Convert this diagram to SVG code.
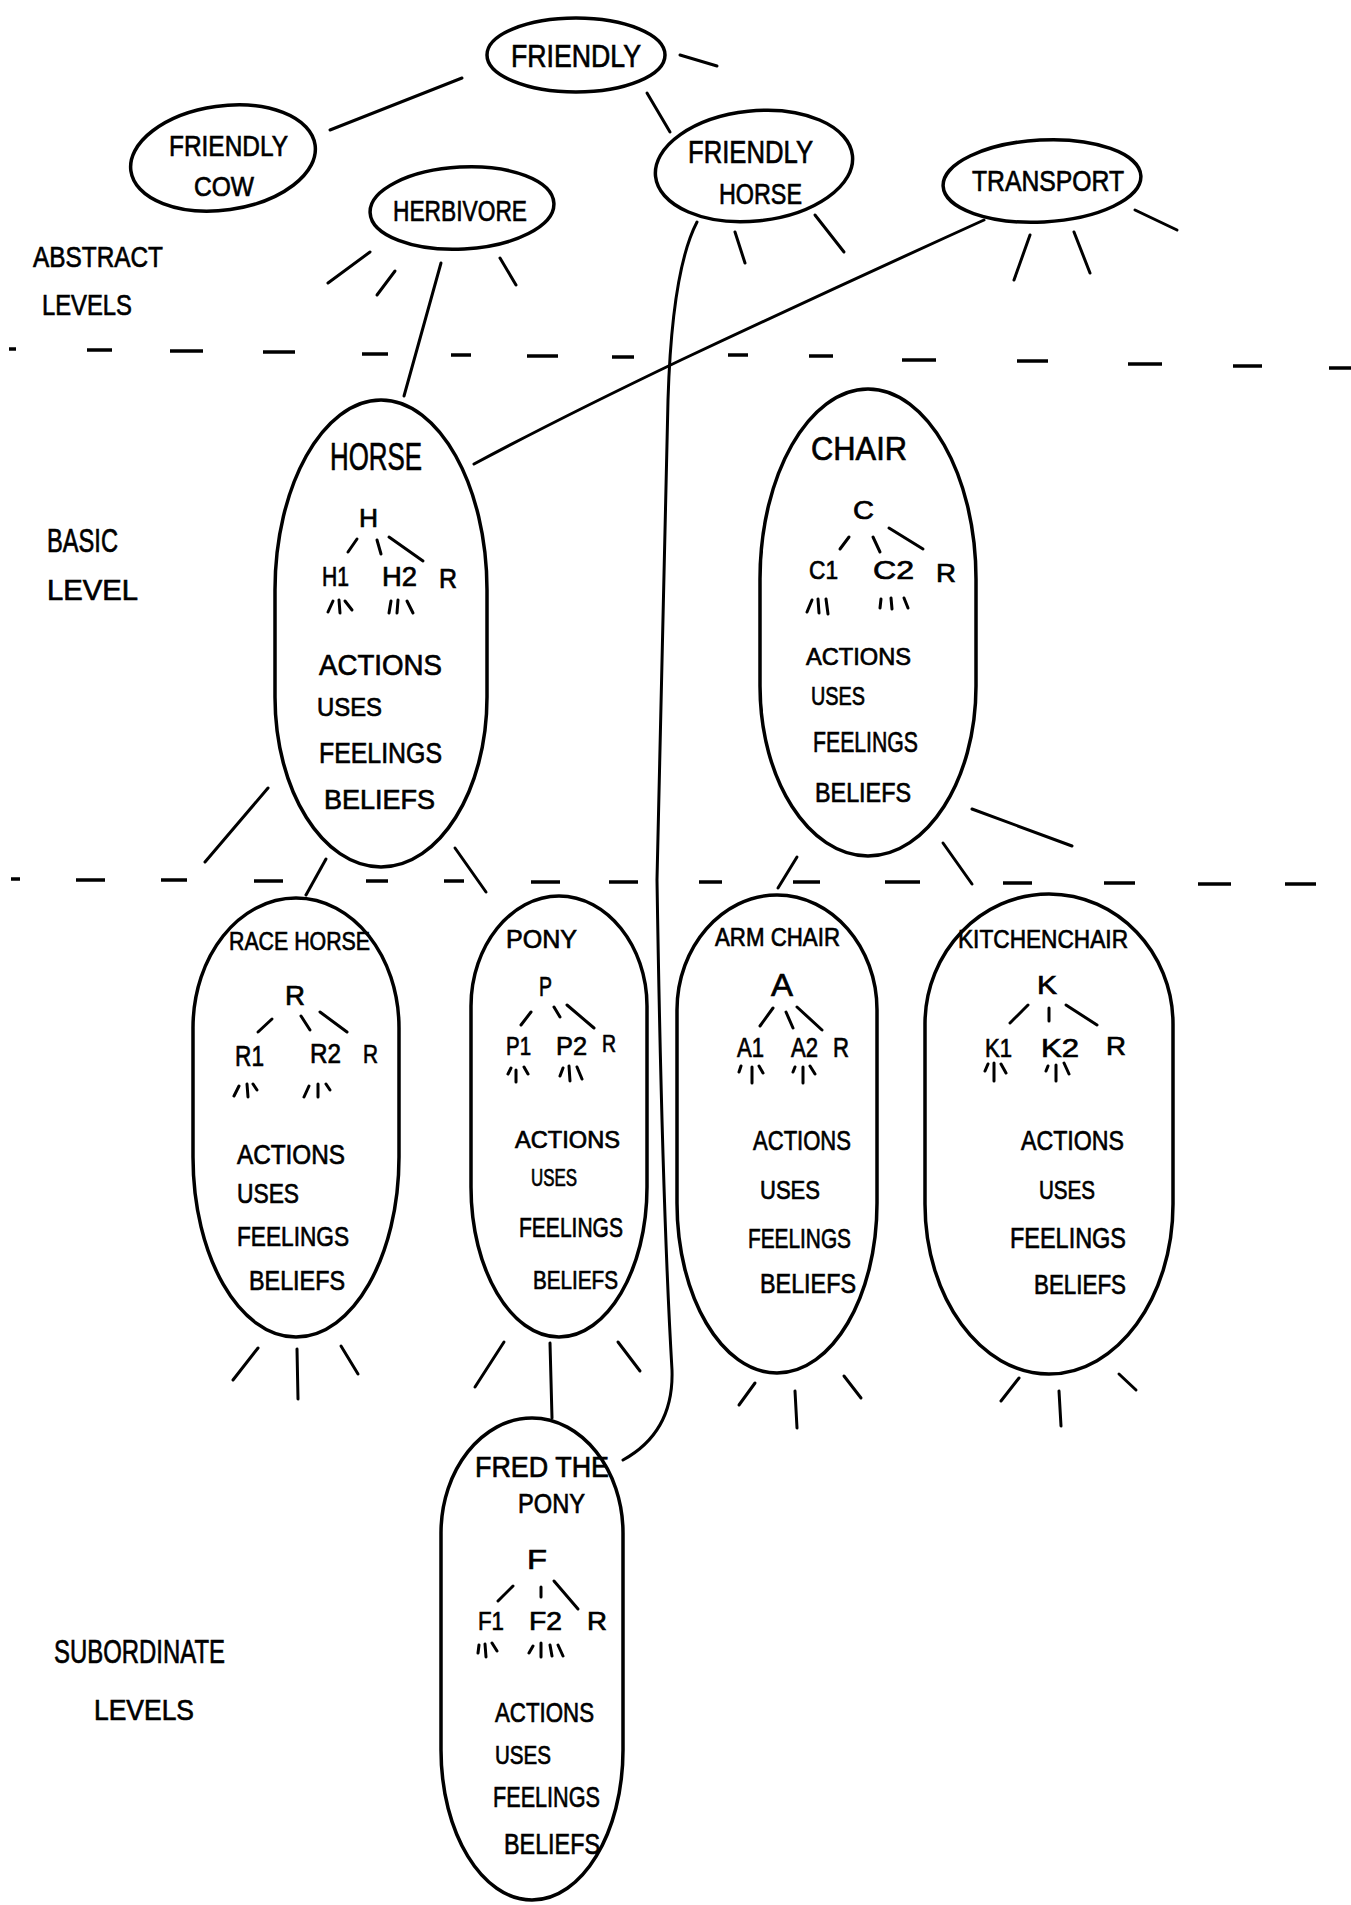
<svg xmlns="http://www.w3.org/2000/svg" width="1351" height="1905" viewBox="0 0 1351 1905">
<style>
.t{font-family:"Liberation Sans","DejaVu Sans",sans-serif;fill:#000;stroke:#000;stroke-width:0.7;}
.o{fill:none;stroke:#000;stroke-width:3.5;stroke-linecap:round;stroke-linejoin:round;}
.l{fill:none;stroke:#000;stroke-width:3;stroke-linecap:round;}
.d{fill:none;stroke:#000;stroke-width:3.5;stroke-linecap:butt;}
</style>
<rect width="1351" height="1905" fill="#fff"/>

<g id="level-labels">
<text class="t" x="33" y="267" font-size="30" textLength="130" lengthAdjust="spacingAndGlyphs">ABSTRACT</text>
<text class="t" x="42" y="315" font-size="30" textLength="90" lengthAdjust="spacingAndGlyphs">LEVELS</text>
<text class="t" x="47" y="552" font-size="34" textLength="71" lengthAdjust="spacingAndGlyphs">BASIC</text>
<text class="t" x="47" y="600" font-size="30" textLength="91" lengthAdjust="spacingAndGlyphs">LEVEL</text>
<text class="t" x="54" y="1663" font-size="34" textLength="171" lengthAdjust="spacingAndGlyphs">SUBORDINATE</text>
<text class="t" x="94" y="1720" font-size="30" textLength="100" lengthAdjust="spacingAndGlyphs">LEVELS</text>
</g>

<g id="dividers">
<g id="divider-1">
<line class="d" x1="9" y1="349" x2="16" y2="349"/>
<line class="d" x1="87" y1="350" x2="112" y2="350"/>
<line class="d" x1="170" y1="351" x2="203" y2="351"/>
<line class="d" x1="263" y1="352" x2="295" y2="352"/>
<line class="d" x1="362" y1="354" x2="388" y2="354"/>
<line class="d" x1="451" y1="355" x2="471" y2="355"/>
<line class="d" x1="527" y1="356" x2="558" y2="356"/>
<line class="d" x1="612" y1="357" x2="634" y2="357"/>
<line class="d" x1="728" y1="355" x2="748" y2="355"/>
<line class="d" x1="809" y1="356" x2="833" y2="356"/>
<line class="d" x1="902" y1="360" x2="936" y2="360"/>
<line class="d" x1="1017" y1="361" x2="1048" y2="361"/>
<line class="d" x1="1128" y1="364" x2="1162" y2="364"/>
<line class="d" x1="1233" y1="366" x2="1262" y2="366"/>
<line class="d" x1="1329" y1="368" x2="1351" y2="368"/>
</g>
<g id="divider-2">
<line class="d" x1="11" y1="879" x2="20" y2="879"/>
<line class="d" x1="76" y1="880" x2="105" y2="880"/>
<line class="d" x1="161" y1="880" x2="187" y2="880"/>
<line class="d" x1="254" y1="881" x2="283" y2="881"/>
<line class="d" x1="366" y1="881" x2="388" y2="881"/>
<line class="d" x1="444" y1="881" x2="464" y2="881"/>
<line class="d" x1="531" y1="882" x2="560" y2="882"/>
<line class="d" x1="609" y1="882" x2="638" y2="882"/>
<line class="d" x1="699" y1="882" x2="722" y2="882"/>
<line class="d" x1="793" y1="882" x2="820" y2="882"/>
<line class="d" x1="885" y1="882" x2="920" y2="882"/>
<line class="d" x1="1003" y1="883" x2="1032" y2="883"/>
<line class="d" x1="1104" y1="883" x2="1135" y2="883"/>
<line class="d" x1="1198" y1="884" x2="1231" y2="884"/>
<line class="d" x1="1285" y1="884" x2="1316" y2="884"/>
</g>
</g>

<g id="connectors">
<line class="l" x1="462" y1="78" x2="330" y2="130"/>
<line class="l" x1="680" y1="55" x2="717" y2="66"/>
<line class="l" x1="647" y1="93" x2="670" y2="132"/>
<line class="l" x1="441" y1="263" x2="404" y2="396"/>
<path class="l" d="M984,220 Q830,290 681,360 Q560,418 474,464"/>
<path class="l" d="M697,222 Q672,270 668,400 L657,880 Q662,1200 672,1370 Q674,1432 623,1460"/>
<line class="l" x1="550" y1="1343" x2="552" y2="1418"/>
<line class="l" x1="370" y1="252" x2="328" y2="283"/>
<line class="l" x1="395" y1="271" x2="377" y2="295"/>
<line class="l" x1="500" y1="258" x2="516" y2="285"/>
<line class="l" x1="735" y1="232" x2="745" y2="263"/>
<line class="l" x1="815" y1="215" x2="844" y2="252"/>
<line class="l" x1="1030" y1="235" x2="1014" y2="280"/>
<line class="l" x1="1074" y1="232" x2="1090" y2="273"/>
<line class="l" x1="1135" y1="210" x2="1177" y2="230"/>
<line class="l" x1="268" y1="788" x2="205" y2="862"/>
<line class="l" x1="326" y1="859" x2="306" y2="895"/>
<line class="l" x1="455" y1="848" x2="486" y2="892"/>
<line class="l" x1="797" y1="857" x2="778" y2="888"/>
<line class="l" x1="943" y1="843" x2="972" y2="884"/>
<line class="l" x1="972" y1="809" x2="1072" y2="846"/>
<line class="l" x1="258" y1="1348" x2="233" y2="1380"/>
<line class="l" x1="297" y1="1349" x2="298" y2="1399"/>
<line class="l" x1="341" y1="1346" x2="358" y2="1374"/>
<line class="l" x1="504" y1="1342" x2="475" y2="1387"/>
<line class="l" x1="618" y1="1342" x2="640" y2="1371"/>
<line class="l" x1="755" y1="1383" x2="739" y2="1405"/>
<line class="l" x1="795" y1="1391" x2="797" y2="1428"/>
<line class="l" x1="844" y1="1376" x2="861" y2="1398"/>
<line class="l" x1="1019" y1="1378" x2="1001" y2="1401"/>
<line class="l" x1="1059" y1="1391" x2="1061" y2="1426"/>
<line class="l" x1="1119" y1="1374" x2="1136" y2="1390"/>
</g>

<g id="friendly">
<ellipse class="o" cx="576" cy="55" rx="89" ry="37"/>
<text class="t" x="511" y="67" font-size="32" textLength="130" lengthAdjust="spacingAndGlyphs">FRIENDLY</text>
</g>
<g id="friendly-cow">
<ellipse class="o" cx="223" cy="158" rx="93" ry="52" transform="rotate(-8 223 158)"/>
<text class="t" x="169" y="156" font-size="30" textLength="119" lengthAdjust="spacingAndGlyphs">FRIENDLY</text>
<text class="t" x="194" y="196" font-size="28" textLength="60" lengthAdjust="spacingAndGlyphs">COW</text>
</g>
<g id="herbivore">
<ellipse class="o" cx="462" cy="208" rx="92" ry="41" transform="rotate(-3 462 208)"/>
<text class="t" x="393" y="221" font-size="30" textLength="134" lengthAdjust="spacingAndGlyphs">HERBIVORE</text>
</g>
<g id="friendly-horse">
<ellipse class="o" cx="754" cy="166" rx="99" ry="55" transform="rotate(-6 754 166)"/>
<text class="t" x="688" y="163" font-size="32" textLength="125" lengthAdjust="spacingAndGlyphs">FRIENDLY</text>
<text class="t" x="719" y="204" font-size="30" textLength="83" lengthAdjust="spacingAndGlyphs">HORSE</text>
</g>
<g id="transport">
<ellipse class="o" cx="1042" cy="181" rx="99" ry="41" transform="rotate(-3 1042 181)"/>
<text class="t" x="972" y="191" font-size="30" textLength="152" lengthAdjust="spacingAndGlyphs">TRANSPORT</text>
</g>

<g id="horse">
<path class="o" d="M381,400 C439,400 487,486 487,590 L487,697 C487,791 439,867 381,867 C323,867 275,791 275,697 L275,590 C275,486 323,400 381,400Z"/>
<text class="t" x="330" y="470" font-size="38" textLength="92" lengthAdjust="spacingAndGlyphs">HORSE</text>
<text class="t" x="359" y="527" font-size="26" textLength="19" lengthAdjust="spacingAndGlyphs">H</text>
<line class="l" x1="357" y1="539" x2="348" y2="552"/><line class="l" x1="377" y1="540" x2="381" y2="554"/><line class="l" x1="389" y1="537" x2="423" y2="561"/>
<text class="t" x="322" y="586" font-size="27" textLength="27" lengthAdjust="spacingAndGlyphs">H1</text>
<text class="t" x="382" y="586" font-size="27" textLength="35" lengthAdjust="spacingAndGlyphs">H2</text>
<text class="t" x="439" y="588" font-size="27" textLength="18" lengthAdjust="spacingAndGlyphs">R</text>
<path class="l" d="M333,601 L328,612 M339,600 L340,613 M345,601 L352,610 M391,601 L389,613 M398,600 L397,613 M407,601 L413,613"/>
<text class="t" x="319" y="675" font-size="30" textLength="123" lengthAdjust="spacingAndGlyphs">ACTIONS</text>
<text class="t" x="317" y="716" font-size="26" textLength="65" lengthAdjust="spacingAndGlyphs">USES</text>
<text class="t" x="319" y="763" font-size="30" textLength="123" lengthAdjust="spacingAndGlyphs">FEELINGS</text>
<text class="t" x="324" y="809" font-size="28" textLength="111" lengthAdjust="spacingAndGlyphs">BELIEFS</text>
</g>

<g id="chair">
<path class="o" d="M868,389 C927,389 976,475 976,579 L976,686 C976,780 927,856 868,856 C809,856 760,780 760,686 L760,579 C760,475 809,389 868,389Z"/>
<text class="t" x="811" y="460" font-size="34" textLength="96" lengthAdjust="spacingAndGlyphs">CHAIR</text>
<text class="t" x="853" y="519" font-size="26" textLength="21" lengthAdjust="spacingAndGlyphs">C</text>
<line class="l" x1="849" y1="537" x2="840" y2="549"/><line class="l" x1="873" y1="537" x2="880" y2="552"/><line class="l" x1="889" y1="528" x2="923" y2="549"/>
<text class="t" x="809" y="579" font-size="26" textLength="29" lengthAdjust="spacingAndGlyphs">C1</text>
<text class="t" x="873" y="579" font-size="26" textLength="41" lengthAdjust="spacingAndGlyphs">C2</text>
<text class="t" x="936" y="582" font-size="26" textLength="20" lengthAdjust="spacingAndGlyphs">R</text>
<path class="l" d="M812,600 L807,612 M818,599 L819,613 M826,599 L828,614 M881,599 L880,608 M891,598 L892,609 M904,598 L908,608"/>
<text class="t" x="806" y="665" font-size="24" textLength="105" lengthAdjust="spacingAndGlyphs">ACTIONS</text>
<text class="t" x="811" y="705" font-size="26" textLength="54" lengthAdjust="spacingAndGlyphs">USES</text>
<text class="t" x="813" y="752" font-size="30" textLength="105" lengthAdjust="spacingAndGlyphs">FEELINGS</text>
<text class="t" x="815" y="802" font-size="28" textLength="96" lengthAdjust="spacingAndGlyphs">BELIEFS</text>
</g>

<g id="race-horse">
<path class="o" d="M296,898 C353,898 399,956 399,1028 L399,1157 C399,1256 353,1337 296,1337 C239,1337 193,1256 193,1157 L193,1028 C193,956 239,898 296,898Z"/>
<text class="t" x="229" y="950" font-size="26" textLength="141" lengthAdjust="spacingAndGlyphs">RACE HORSE</text>
<text class="t" x="285" y="1005" font-size="28" textLength="20" lengthAdjust="spacingAndGlyphs">R</text>
<line class="l" x1="272" y1="1019" x2="258" y2="1032"/><line class="l" x1="301" y1="1016" x2="310" y2="1030"/><line class="l" x1="320" y1="1012" x2="347" y2="1032"/>
<text class="t" x="235" y="1066" font-size="30" textLength="29" lengthAdjust="spacingAndGlyphs">R1</text>
<text class="t" x="310" y="1063" font-size="28" textLength="31" lengthAdjust="spacingAndGlyphs">R2</text>
<text class="t" x="363" y="1063" font-size="26" textLength="15" lengthAdjust="spacingAndGlyphs">R</text>
<path class="l" d="M239,1086 L234,1096 M247,1084 L248,1097 M253,1084 L257,1090 M309,1086 L304,1097 M318,1084 L318,1097 M326,1084 L330,1090"/>
<text class="t" x="237" y="1164" font-size="28" textLength="108" lengthAdjust="spacingAndGlyphs">ACTIONS</text>
<text class="t" x="237" y="1203" font-size="28" textLength="62" lengthAdjust="spacingAndGlyphs">USES</text>
<text class="t" x="237" y="1246" font-size="28" textLength="112" lengthAdjust="spacingAndGlyphs">FEELINGS</text>
<text class="t" x="249" y="1290" font-size="28" textLength="96" lengthAdjust="spacingAndGlyphs">BELIEFS</text>
</g>

<g id="pony">
<path class="o" d="M559,896 C607,896 647,946 647,1006 L647,1187 C647,1270 607,1337 559,1337 C511,1337 471,1270 471,1187 L471,1006 C471,946 511,896 559,896Z"/>
<text class="t" x="506" y="948" font-size="26" textLength="71" lengthAdjust="spacingAndGlyphs">PONY</text>
<text class="t" x="539" y="996" font-size="28" textLength="13" lengthAdjust="spacingAndGlyphs">P</text>
<line class="l" x1="531" y1="1012" x2="521" y2="1025"/><line class="l" x1="554" y1="1007" x2="560" y2="1017"/><line class="l" x1="567" y1="1005" x2="594" y2="1028"/>
<text class="t" x="506" y="1055" font-size="26" textLength="25" lengthAdjust="spacingAndGlyphs">P1</text>
<text class="t" x="556" y="1055" font-size="26" textLength="31" lengthAdjust="spacingAndGlyphs">P2</text>
<text class="t" x="602" y="1052" font-size="24" textLength="14" lengthAdjust="spacingAndGlyphs">R</text>
<path class="l" d="M511,1068 L508,1074 M516,1070 L516,1082 M524,1067 L528,1074 M563,1068 L560,1076 M569,1066 L570,1081 M577,1067 L582,1079"/>
<text class="t" x="515" y="1148" font-size="24" textLength="105" lengthAdjust="spacingAndGlyphs">ACTIONS</text>
<text class="t" x="531" y="1186" font-size="24" textLength="46" lengthAdjust="spacingAndGlyphs">USES</text>
<text class="t" x="519" y="1237" font-size="28" textLength="104" lengthAdjust="spacingAndGlyphs">FEELINGS</text>
<text class="t" x="533" y="1289" font-size="26" textLength="85" lengthAdjust="spacingAndGlyphs">BELIEFS</text>
</g>

<g id="arm-chair">
<path class="o" d="M777,895 C832,895 877,947 877,1010 L877,1203 C877,1297 832,1373 777,1373 C722,1373 677,1297 677,1203 L677,1010 C677,947 722,895 777,895Z"/>
<text class="t" x="715" y="946" font-size="26" textLength="125" lengthAdjust="spacingAndGlyphs">ARM CHAIR</text>
<text class="t" x="771" y="996" font-size="32" textLength="22" lengthAdjust="spacingAndGlyphs">A</text>
<line class="l" x1="773" y1="1008" x2="760" y2="1026"/><line class="l" x1="786" y1="1012" x2="793" y2="1028"/><line class="l" x1="797" y1="1007" x2="822" y2="1030"/>
<text class="t" x="737" y="1057" font-size="28" textLength="27" lengthAdjust="spacingAndGlyphs">A1</text>
<text class="t" x="791" y="1057" font-size="28" textLength="27" lengthAdjust="spacingAndGlyphs">A2</text>
<text class="t" x="833" y="1057" font-size="28" textLength="16" lengthAdjust="spacingAndGlyphs">R</text>
<path class="l" d="M741,1066 L739,1072 M752,1067 L752,1083 M759,1066 L763,1073 M795,1067 L793,1072 M803,1067 L803,1083 M810,1066 L815,1074"/>
<text class="t" x="753" y="1150" font-size="28" textLength="98" lengthAdjust="spacingAndGlyphs">ACTIONS</text>
<text class="t" x="760" y="1199" font-size="26" textLength="60" lengthAdjust="spacingAndGlyphs">USES</text>
<text class="t" x="748" y="1248" font-size="28" textLength="103" lengthAdjust="spacingAndGlyphs">FEELINGS</text>
<text class="t" x="760" y="1293" font-size="28" textLength="96" lengthAdjust="spacingAndGlyphs">BELIEFS</text>
</g>

<g id="kitchen-chair">
<path class="o" d="M1049,894 C1117,894 1173,952 1173,1024 L1173,1204 C1173,1298 1117,1374 1049,1374 C981,1374 925,1298 925,1204 L925,1024 C925,952 981,894 1049,894Z"/>
<text class="t" x="958" y="948" font-size="26" textLength="170" lengthAdjust="spacingAndGlyphs">KITCHENCHAIR</text>
<text class="t" x="1037" y="994" font-size="26" textLength="20" lengthAdjust="spacingAndGlyphs">K</text>
<line class="l" x1="1028" y1="1005" x2="1010" y2="1023"/><line class="l" x1="1049" y1="1008" x2="1049" y2="1021"/><line class="l" x1="1066" y1="1005" x2="1097" y2="1025"/>
<text class="t" x="985" y="1057" font-size="26" textLength="27" lengthAdjust="spacingAndGlyphs">K1</text>
<text class="t" x="1041" y="1057" font-size="26" textLength="38" lengthAdjust="spacingAndGlyphs">K2</text>
<text class="t" x="1106" y="1055" font-size="26" textLength="20" lengthAdjust="spacingAndGlyphs">R</text>
<path class="l" d="M988,1064 L985,1071 M994,1063 L994,1081 M1001,1064 L1006,1073 M1048,1066 L1046,1071 M1056,1065 L1056,1081 M1064,1063 L1069,1074"/>
<text class="t" x="1021" y="1150" font-size="28" textLength="103" lengthAdjust="spacingAndGlyphs">ACTIONS</text>
<text class="t" x="1039" y="1199" font-size="26" textLength="56" lengthAdjust="spacingAndGlyphs">USES</text>
<text class="t" x="1010" y="1248" font-size="30" textLength="116" lengthAdjust="spacingAndGlyphs">FEELINGS</text>
<text class="t" x="1034" y="1294" font-size="28" textLength="92" lengthAdjust="spacingAndGlyphs">BELIEFS</text>
</g>

<g id="fred-the-pony">
<path class="o" d="M532,1418 C582,1418 623,1470 623,1533 L623,1750 C623,1833 582,1900 532,1900 C482,1900 441,1833 441,1750 L441,1533 C441,1470 482,1418 532,1418Z"/>
<text class="t" x="475" y="1477" font-size="30" textLength="134" lengthAdjust="spacingAndGlyphs">FRED THE</text>
<text class="t" x="518" y="1513" font-size="28" textLength="67" lengthAdjust="spacingAndGlyphs">PONY</text>
<text class="t" x="527" y="1569" font-size="28" textLength="20" lengthAdjust="spacingAndGlyphs">F</text>
<line class="l" x1="513" y1="1586" x2="498" y2="1601"/><line class="l" x1="541" y1="1587" x2="541" y2="1597"/><line class="l" x1="554" y1="1581" x2="578" y2="1609"/>
<text class="t" x="478" y="1630" font-size="26" textLength="26" lengthAdjust="spacingAndGlyphs">F1</text>
<text class="t" x="529" y="1630" font-size="26" textLength="33" lengthAdjust="spacingAndGlyphs">F2</text>
<text class="t" x="587" y="1630" font-size="26" textLength="20" lengthAdjust="spacingAndGlyphs">R</text>
<path class="l" d="M479,1645 L478,1653 M485,1644 L486,1657 M492,1643 L497,1651 M533,1646 L529,1653 M541,1643 L541,1657 M550,1645 L552,1656 M558,1645 L563,1656"/>
<text class="t" x="495" y="1722" font-size="28" textLength="99" lengthAdjust="spacingAndGlyphs">ACTIONS</text>
<text class="t" x="495" y="1764" font-size="26" textLength="56" lengthAdjust="spacingAndGlyphs">USES</text>
<text class="t" x="493" y="1807" font-size="30" textLength="107" lengthAdjust="spacingAndGlyphs">FEELINGS</text>
<text class="t" x="504" y="1854" font-size="30" textLength="96" lengthAdjust="spacingAndGlyphs">BELIEFS</text>
</g>
</svg>
